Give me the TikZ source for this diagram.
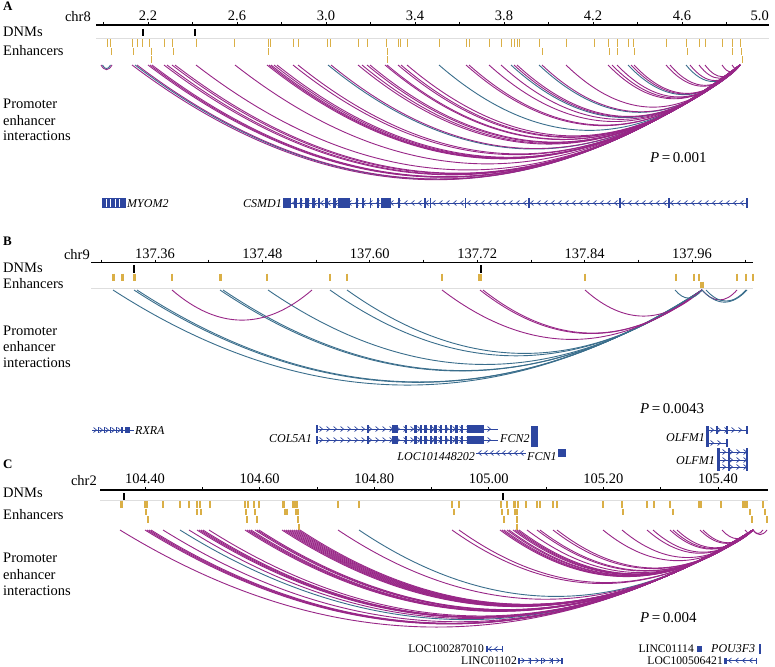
\documentclass[tikz,border=0pt]{standalone}
\usepackage{fontspec}
\setmainfont{Liberation Serif}
\definecolor{purp}{RGB}{152,38,135}
\definecolor{blu}{RGB}{58,110,140}
\definecolor{gold}{RGB}{218,175,70}
\definecolor{genec}{RGB}{45,70,160}
\definecolor{lgray}{RGB}{222,222,222}
\newcommand{\parc}[5]{%
 \pgfmathsetmacro\arcW{#2-#1}%
 \pgfmathsetmacro\arcD{#4*(\arcW)^0.8}%
 \pgfmathsetmacro\arcA{#1+\arcW/3}%
 \pgfmathsetmacro\arcB{#2-\arcW/3}%
 \pgfmathsetmacro\arcC{#3+4*\arcD/3}%
 \draw[#5] (#1,#3) .. controls (\arcA,\arcC) and (\arcB,\arcC) .. (#2,#3);}
\newcommand{\chevR}[2]{\draw[gn] ({#1-1.5},{#2-2.5}) -- ({#1+1.5},#2) -- ({#1-1.5},{#2+2.5});}
\newcommand{\chevL}[2]{\draw[gn] ({#1+1.5},{#2-2.5}) -- ({#1-1.5},#2) -- ({#1+1.5},{#2+2.5});}
\begin{document}
\begin{tikzpicture}[x=1pt,y=-1pt,
  pu/.style={draw=purp,line width=0.9pt},
  bl/.style={draw=blu,line width=0.9pt},
  enh/.style={draw=gold},
  dnm/.style={draw=black,line width=1.1pt},
  axis/.style={draw=black,line width=1.1pt},
  tick/.style={draw=black,line width=0.8pt},
  glin/.style={draw=lgray,line width=0.8pt},
  gn/.style={draw=genec,line width=0.7pt},
  gfill/.style={fill=genec},
  lab/.style={font=\fontsize{14.5}{16}\selectfont,inner sep=0pt},
  glab/.style={font=\fontsize{12}{14}\selectfont\itshape,inner sep=0pt},
  glabu/.style={font=\fontsize{11.6}{13}\selectfont,inner sep=0pt},
  plab/.style={font=\fontsize{15}{17}\selectfont,inner sep=0pt},
  panel/.style={font=\fontsize{13}{15}\selectfont\bfseries,inner sep=0pt}]
\useasboundingbox[fill=white] (0,0) rectangle (775,666);

% ================= Panel A =================
\node[panel,anchor=base west] (pA) at (3,11) {A};
\node[lab,anchor=base east] (chrA) at (91,22) {chr8};
\draw[axis] (96,25) -- (769,25);
\foreach \i in {0,...,14} {\draw[tick] ({103.5+44.5*\i},22) -- ++(0,3);}
\foreach \v [count=\i from 0] in {2.2,2.6,3.0,3.4,3.8,4.2,4.6}
  {\node[lab,anchor=base] at ({148+89*\i},21) {\v};}
\node[lab,anchor=base east] at (769,21) {5.0};
\node[lab,anchor=base west] (dA) at (3,37) {DNMs};
\node[lab,anchor=base west] (eA) at (3,56) {Enhancers};
\node[lab,anchor=base west] (iA1) at (3,109) {Promoter};
\node[lab,anchor=base west] (iA2) at (3,125) {enhancer};
\node[lab,anchor=base west] (iA3) at (3,140) {interactions};
\foreach \x in {143,195} {\draw[dnm] (\x,29) -- (\x,36.5);}
\draw[glin] (96,38) -- (769,38);
\foreach \x in {107,110,132,137,142,149,164,172,196,234,268,270,293,298,327,330,358,367,386,398,400,407,439,466,469,489,501,511,514,517,519,539,566,594,608,617,628,633,666,686,699,705,722,732,740}
  {\draw[enh,line width=1pt] (\x,39.5) -- (\x,47);}
\foreach \x in {111,133,151,173,268,387,542,609,617,634,687,732,741}
  {\draw[enh,line width=1pt] (\x,48) -- (\x,55.5);}
\foreach \x in {151,387,742}
  {\draw[enh,line width=1pt] (\x,56) -- (\x,63);}
% arcs
\foreach \s in {135,328,439,511,539,628,686} {\parc{\s}{740}{65}{0.68}{bl}}
\foreach \s in {132,137,148,150,152,164,167,172,175,196,235,267,269,271,274,277,293,298,331,358,362,367,370,385,387,398,401,407,466,469,489,501,514,517,542,566,608,612,617,631,634,666,670,690,699,705,722,732} {\parc{\s}{740}{65}{0.68}{pu}}
\parc{101}{112}{65}{0.68}{pu}
\parc{102.5}{110.5}{65}{0.68}{bl}
\node[plab,anchor=base west] (pvA) at (650,162) {\textit{P}\,=\,0.001};
% genes A
\fill[gfill] (102,198) rectangle (126,208);
\foreach \x in {106,110.5,115,119} {\draw[white,line width=0.4pt] (\x,199) -- (\x,207);}
\node[glab,anchor=base west] (gA1) at (127,207) {MYOM2};
\node[glab,anchor=base east] (gA2) at (282,207) {CSMD1};
\draw[gn] (283,203) -- (748,203);
\foreach \x in {294,301,...,745} {\chevL{\x}{203}}
\foreach \a/\b in {283/291,294/297,300/302,305/309,312/315,318/320,325/328,333/336,338/350,356/358,362/364,370/371,377/379,381/391,398/400,424/426,430/431,465/466,528/530,619/621,668/670,746/748}
  {\fill[gfill] (\a,198) rectangle (\b,208);}

% ================= Panel B =================
\node[panel,anchor=base west] (pB) at (3,245) {B};
\node[lab,anchor=base east] (chrB) at (90,259) {chr9};
\draw[axis] (91,262.5) -- (753,262.5);
\foreach \i in {0,...,12} {\draw[tick] ({101.3+53.7*\i},259.5) -- ++(0,3);}
\foreach \v [count=\i from 0] in {137.36,137.48,137.60,137.72,137.84,137.96}
  {\node[lab,anchor=base] at ({155+107.4*\i},258) {\v};}
\node[lab,anchor=base west] (dB) at (3,272) {DNMs};
\node[lab,anchor=base west] (eB) at (3,288) {Enhancers};
\node[lab,anchor=base west] (iB1) at (3,335) {Promoter};
\node[lab,anchor=base west] (iB2) at (3,351) {enhancer};
\node[lab,anchor=base west] (iB3) at (3,367) {interactions};
\foreach \x in {134,481} {\draw[dnm] (\x,265) -- (\x,273);}
\foreach \x/\w in {113/3,122/3,134/3,172/1.5,220/3,267/2,330/2.5,347/2,442/1.5,480/3.5,585/1.5,676/1.5,694/2,699/1.5,737/2,746/1.5,753/1.5}
  {\draw[enh,line width=\w pt] (\x,273.5) -- (\x,281);}
\draw[enh,line width=4pt] (702,281.5) -- (702,288.5);
\draw[glin] (91,288.5) -- (753,288.5);
\foreach \s in {113,134,137,220,223,268,330,347} {\parc{\s}{702}{290}{0.578}{bl}}
\foreach \s in {442,480,483,585} {\parc{\s}{702}{290}{0.578}{pu}}
\parc{172}{312}{290}{0.578}{pu}
\parc{675}{702}{290}{0.578}{bl}
\parc{702}{737}{290}{0.578}{pu}
\parc{702}{747}{290}{0.578}{bl}
\parc{706}{746}{290}{0.578}{bl}
\node[plab,anchor=base west] (pvB) at (640,413) {\textit{P}\,=\,0.0043};
% genes B
\draw[gn] (92,430) -- (134,430);
\foreach \x in {95,101,...,122} {\chevR{\x}{430}}
\foreach \a/\b in {98/99,104/105,110/111,116/117,121/123,125/130} {\fill[gfill] (\a,427) rectangle (\b,433);}
\node[glab,anchor=base west] (gB1) at (135,434) {RXRA};
\node[glab,anchor=base east] (gB2) at (312,442) {COL5A1};
\draw[gn] (316,429) -- (498,429);
\draw[gn] (316,440) -- (498,440);
\foreach \x in {321,328,...,495} {\chevR{\x}{429}\chevR{\x}{440}}
\foreach \a/\b in {316/318,367/369,392/398,405/407,414/417,420/422,424/427,430/432,434/437,440/442,445/447,450/452,455/458,461/463,467/484}
  {\fill[gfill] (\a,425) rectangle (\b,433); \fill[gfill] (\a,436) rectangle (\b,444);}
\node[glab,anchor=base west] (gB3) at (500,442) {FCN2};
\fill[gfill] (531,426) rectangle (538,447);
\node[glab,anchor=base east] (gB4) at (475,460) {LOC101448202};
\draw[gn] (476,453) -- (526,453);
\foreach \x in {480,486,...,524} {\chevL{\x}{453}}
\node[glab,anchor=base west] (gB5) at (527,460) {FCN1};
\fill[gfill] (558,449) rectangle (566,457);
\node[glab,anchor=base east] (gB6) at (705,441) {OLFM1};
\draw[gn] (706,430) -- (748,430);
\draw[gn] (706,443) -- (728,443);
\foreach \x in {712,719,...,746} {\chevR{\x}{430}}
\foreach \x in {712,719} {\chevR{\x}{443}}
\fill[gfill] (706,426) rectangle (709,447);
\foreach \a/\b in {716/718,726/728,746/748} {\fill[gfill] (\a,426) rectangle (\b,434);}
\fill[gfill] (726,439) rectangle (728,447);
\node[glab,anchor=base east] (gB7) at (715,464) {OLFM1};
\foreach \yy in {452,460,467} {\draw[gn] (717,\yy) -- (748,\yy);}
\foreach \yy in {452,460,467} {\foreach \x in {724,731,738,745} {\chevR{\x}{\yy}}}
\fill[gfill] (717,448) rectangle (720,471);
\foreach \a/\b in {728/730,746/748} {\fill[gfill] (\a,448) rectangle (\b,471);}

% ================= Panel C =================
\node[panel,anchor=base west] (pC) at (3,468) {C};
\node[lab,anchor=base east] (chrC) at (97,485) {chr2};
\draw[axis] (100,490) -- (768,490);
\foreach \i in {0,...,10} {\draw[tick] ({145+57.3*\i},487) -- ++(0,3);}
\foreach \v [count=\i from 0] in {104.40,104.60,104.80,105.00,105.20,105.40}
  {\node[lab,anchor=base] at ({145+114.6*\i},483) {\v};}
\node[lab,anchor=base west] (dC) at (3,497) {DNMs};
\node[lab,anchor=base west] (eC) at (3,519) {Enhancers};
\node[lab,anchor=base west] (iC1) at (3,562) {Promoter};
\node[lab,anchor=base west] (iC2) at (3,579) {enhancer};
\node[lab,anchor=base west] (iC3) at (3,595) {interactions};
\foreach \x in {124,503} {\draw[dnm] (\x,493) -- (\x,500);}
\draw[glin] (100,500) -- (768,500);
\foreach \x/\w in {121/3,145/1.2,147/1.2,163/1.2,180/1.2,189/1.2,197/1.2,200/1.2,210/1.2,245/1.2,248/1.2,254/1.2,259/1.2,283/3,293/1.2,295/1.2,297/1.2,338/1.2,359/1.2,452/1.2,459/1.2,501/1.2,507/1.2,514/3,518/1.2,526/2,537/1.2,540/1.2,553/1.2,557/1.2,603/1.2,622/1.2,647/1.2,654/1.2,670/1.2,700/4,721/1.2,745/6,763/1.2}
  {\draw[enh,line width=\w pt] (\x,501) -- (\x,507.5);}
\foreach \x/\w in {146/1.2,197/1.2,201/1.2,246/1.2,255/1.2,285/1.2,287/1.2,296/1.2,298/1.2,454/1.2,502/1.2,508/1.2,515/1.2,517/1.2,623/1.2,673/2.5,750/1.2,765/1.2}
  {\draw[enh,line width=\w pt] (\x,508.5) -- (\x,515);}
\foreach \x/\w in {148/1.2,247/1.2,257/1.2,298/1.2,504/2.5,517/1.2,752/1.2,767/2.5}
  {\draw[enh,line width=\w pt] (\x,516) -- (\x,523);}
\foreach \x in {299,517} {\draw[enh,line width=1.2pt] (\x,523.5) -- (\x,530);}
\foreach \s in {180,359} {\parc{\s}{753}{530}{0.557}{bl}}
\foreach \s in {120,145,147,149,151,163,189,197,199,201,203,209,245,247,249,251,255,257,259,282,284,286,288,290,292,294,296,298,300,338,452,459,500,502,504,507,509,513,515,517,519,527,537,540,553,557,603,622,647,653,670,673,677,700,703,722,745} {\parc{\s}{753}{530}{0.557}{pu}}
\parc{753}{763}{530}{0.557}{pu}
\parc{753}{767}{530}{0.557}{pu}
\node[plab,anchor=base west] (pvC) at (640,622) {\textit{P}\,=\,0.004};
% genes C
\node[glabu,anchor=base east] (gC1) at (484,652.5) {LOC100287010};
\draw[gn] (486,649) -- (503,649);
\foreach \x in {490,496} {\chevL{\x}{649}}
\foreach \a/\b in {486/487.5,501.5/503} {\fill[gfill] (\a,646) rectangle (\b,652);}
\node[glabu,anchor=base east] (gC2) at (517,664) {LINC01102};
\draw[gn] (518,660.5) -- (563,660.5);
\foreach \x in {523,530,...,558} {\chevR{\x}{660.5}}
\foreach \a/\b in {518/519.5,530/531,541/542,552/553,561/563} {\fill[gfill] (\a,657.5) rectangle (\b,663.5);}
\node[glabu,anchor=base east] (gC3) at (694,652.5) {LINC01114};
\fill[gfill] (697,646) rectangle (702,652);
\node[glab,anchor=base west] (gC4) at (711,652.5) {POU3F3};
\fill[gfill] (759,644) rectangle (760.5,654);
\node[glabu,anchor=base east] (gC5) at (723,664) {LOC100506421};
\draw[gn] (724,660.5) -- (757,660.5);
\foreach \x in {730,737,744,751} {\chevL{\x}{660.5}}
\foreach \a/\b in {724/727,755.5/757} {\fill[gfill] (\a,657.5) rectangle (\b,663.5);}
\end{tikzpicture}
\end{document}
